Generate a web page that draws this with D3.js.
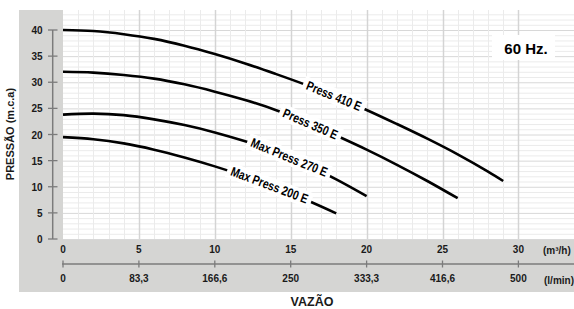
<!DOCTYPE html>
<html>
<head>
<meta charset="utf-8">
<script src="https://cdn.jsdelivr.net/npm/d3@7"></script>
<style>
  body { margin: 0; background: #fff; }
  text { font-family: "Liberation Sans", Arial, sans-serif; fill: #1a1a1a; }
</style>
</head>
<body>
<script>
// pump curves, flow in m3/h, pressure in m.c.a
var seriesNames = ["Press 410 E", "Press 350 E", "Max Press 270 E", "Max Press 200 E"];

var flow410 = [0, 2, 4, 6, 8, 10, 12, 14, 16, 18, 20, 22, 24, 26, 28, 29];
var press410 = [40, 39.8, 39.2, 38.3, 37.0, 35.4, 33.6, 31.6, 29.5, 27.2, 24.7, 22.0, 19.2, 16.2, 12.9, 11.1];

var flow350 = [0, 2, 4, 6, 8, 10, 12, 14, 16, 18, 20, 22, 24, 26];
var press350 = [32, 31.85, 31.4, 30.7, 29.6, 28.2, 26.6, 24.7, 22.4, 19.8, 17.1, 14.2, 11.1, 7.8];

var flow270 = [0, 2, 4, 6, 8, 10, 12, 14, 16, 18, 20];
var press270 = [23.8, 24.0, 23.7, 22.9, 21.8, 20.4, 18.7, 16.7, 14.3, 11.4, 8.2];

var flow200 = [0, 2, 4, 6, 8, 10, 12, 14, 16, 18];
var press200 = [19.5, 19.1, 18.3, 17.1, 15.6, 13.9, 12.0, 9.9, 7.5, 4.9];

// where the name sits along each curve (m3/h)
var labelFlow = [17.85, 16.3, 14.9, 13.6];

var xTicks = [0, 5, 10, 15, 20, 25, 30];
var lminLabels = ["0", "83,3", "166,6", "250", "333,3", "416,6", "500"];
var yTicks = [0, 5, 10, 15, 20, 25, 30, 35, 40];

var flows = [flow410, flow350, flow270, flow200];
var presses = [press410, press350, press270, press200];

var W = 574, H = 309;
var svg = d3.select("body").append("svg")
            .attr("width", W)
            .attr("height", H);

var x = d3.scaleLinear().domain([0, 30]).range([63, 518.4]);
var y = d3.scaleLinear().domain([0, 40]).range([239, 30]);

//Gray panel and white plot area
svg.append("rect").attr("x", 19).attr("y", 10).attr("width", W - 19).attr("height", 282).attr("fill", "#d5d5d3");
svg.append("rect").attr("x", x(0)).attr("y", 10).attr("width", W - x(0)).attr("height", y(0) - 10).attr("fill", "#fff");

//Grid
var yMax = y.invert(10);
var grid = svg.append("g");
grid.selectAll("line.hmin")
    .data(d3.range(0, Math.floor(yMax) + 1))
    .enter().append("line")
    .attr("x1", x(0)).attr("x2", W)
    .attr("y1", function (d) { return y(d) + 0.5; })
    .attr("y2", function (d) { return y(d) + 0.5; })
    .attr("stroke", function (d) { return d % 5 === 0 ? "#d8d8d8" : "#ebebeb"; })
    .attr("stroke-width", 1);
grid.selectAll("line.vmin")
    .data(d3.range(1, 31))
    .enter().append("line")
    .attr("x1", function (d) { return Math.round(x(d)) + 0.5; })
    .attr("x2", function (d) { return Math.round(x(d)) + 0.5; })
    .attr("y1", 10).attr("y2", y(0))
    .attr("stroke", function (d) { return d % 5 === 0 ? "#d4d4d4" : "#ebebeb"; })
    .attr("stroke-width", function (d) { return d % 5 === 0 ? 1.5 : 1; });

//Curves
var line = d3.line()
             .x(function (d) { return x(d[0]); })
             .y(function (d) { return y(d[1]); })
             .curve(d3.curveCatmullRom);

flows.forEach(function (fl, i) {
  var pts = fl.map(function (q, j) { return [q, presses[i][j]]; });
  svg.append("path")
     .attr("d", line(pts))
     .attr("fill", "none")
     .attr("stroke", "#000")
     .attr("stroke-width", 2.6);
});

//Curve labels with white backing
var squeeze = 0.8;
function pressAt(fl, pr, q) {
  return d3.scaleLinear().domain(fl).range(pr)(q);
}
flows.forEach(function (fl, i) {
  var q = labelFlow[i];
  var px = x(q), py = y(pressAt(fl, presses[i], q));
  var dx = x(q + 1) - x(q - 1);
  var dy = y(pressAt(fl, presses[i], q + 1)) - y(pressAt(fl, presses[i], q - 1));
  var ang = Math.atan2(dy, dx) * 180 / Math.PI;
  var g = svg.append("g").attr("transform", "translate(" + px + "," + py + ") rotate(" + ang + ")");
  var t = g.append("text")
           .attr("text-anchor", "middle")
           .attr("y", 4.5)
           .attr("transform", "scale(" + squeeze + ",1)")
           .attr("font-weight", "bold")
           .attr("font-size", "13px")
           .style("fill", "#000")
           .text(seriesNames[i]);
  var bb = t.node().getBBox();
  g.insert("rect", "text")
   .attr("x", bb.x * squeeze - 4).attr("y", -8)
   .attr("width", bb.width * squeeze + 8).attr("height", 16)
   .attr("fill", "#fff");
});

//60 Hz box
svg.append("rect").attr("x", 492).attr("y", 35).attr("width", 63).attr("height", 25).attr("fill", "#fff");
svg.append("text").attr("x", 526).attr("y", 54)
   .attr("text-anchor", "middle")
   .attr("font-weight", "bold")
   .attr("font-size", "15px")
   .style("fill", "#000")
   .text("60 Hz.");

//Y axis
var axisColor = "#7b7b7b";
svg.append("line").attr("x1", 52.7).attr("x2", 52.7).attr("y1", y(40)).attr("y2", y(0))
   .attr("stroke", axisColor).attr("stroke-width", 1.5);
svg.selectAll("line.ytick")
   .data(yTicks).enter().append("line")
   .attr("x1", 48).attr("x2", 57.5)
   .attr("y1", function (d) { return y(d); })
   .attr("y2", function (d) { return y(d); })
   .attr("stroke", axisColor).attr("stroke-width", 1.3);
svg.selectAll("text.ylab")
   .data(yTicks).enter().append("text")
   .attr("x", 42.5)
   .attr("y", function (d) { return y(d) + 4; })
   .attr("text-anchor", "end")
   .attr("font-weight", "bold")
   .attr("font-size", "10px")
   .text(function (d) { return d; });

svg.append("text")
   .attr("transform", "translate(14,134) rotate(-90)")
   .attr("text-anchor", "middle")
   .attr("font-weight", "bold")
   .attr("font-size", "11px")
   .text("PRESSÃO (m.c.a)");

//X axes
svg.selectAll("text.xlab")
   .data(xTicks).enter().append("text")
   .attr("x", function (d) { return x(d); })
   .attr("y", 253)
   .attr("text-anchor", "middle")
   .attr("font-weight", "bold")
   .attr("font-size", "10px")
   .text(function (d) { return d; });
svg.append("line").attr("x1", x(0) - 1).attr("x2", W).attr("y1", 264).attr("y2", 264)
   .attr("stroke", axisColor).attr("stroke-width", 1.5);
svg.selectAll("line.xtick")
   .data(xTicks).enter().append("line")
   .attr("x1", function (d) { return x(d); })
   .attr("x2", function (d) { return x(d); })
   .attr("y1", 260.5).attr("y2", 267.5)
   .attr("stroke", axisColor).attr("stroke-width", 1.3);
svg.selectAll("text.lmin")
   .data(xTicks).enter().append("text")
   .attr("x", function (d) { return x(d); })
   .attr("y", 282)
   .attr("text-anchor", "middle")
   .attr("font-weight", "bold")
   .attr("font-size", "10px")
   .text(function (d, i) { return lminLabels[i]; });

svg.append("text").attr("x", 543).attr("y", 254)
   .attr("font-weight", "bold").attr("font-size", "10px").text("(m³/h)");
svg.append("text").attr("x", 544).attr("y", 284)
   .attr("font-weight", "bold").attr("font-size", "10px").text("(l/min)");

svg.append("text").attr("x", 312).attr("y", 305.5)
   .attr("text-anchor", "middle")
   .attr("font-weight", "bold")
   .attr("font-size", "12.5px")
   .text("VAZÃO");
</script>
</body>
</html>
